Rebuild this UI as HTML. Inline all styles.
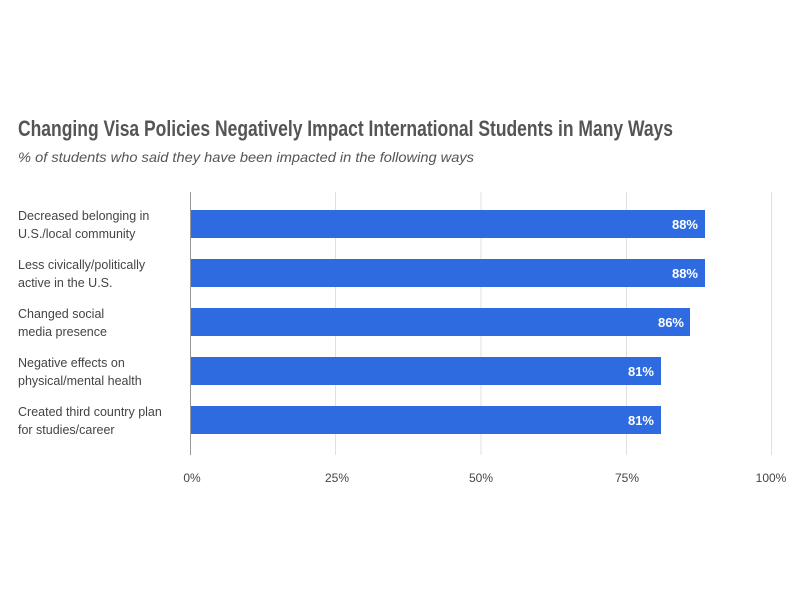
<!DOCTYPE html>
<html><head><meta charset="utf-8"><style>
html,body{margin:0;padding:0;background:#fff;}
svg{display:block;}
</style></head><body>
<svg width="800" height="600" xmlns="http://www.w3.org/2000/svg">
<rect width="800" height="600" fill="#fff"/>
<text x="18" y="136" font-family="Liberation Sans Narrow, Liberation Sans, sans-serif" font-size="22" font-weight="bold" fill="#555" textLength="655" lengthAdjust="spacingAndGlyphs">Changing Visa Policies Negatively Impact International Students in Many Ways</text>
<text x="18" y="162" font-family="Liberation Sans, sans-serif" font-size="14" font-style="italic" fill="#555" textLength="456" lengthAdjust="spacingAndGlyphs">% of students who said they have been impacted in the following ways</text>
<g stroke="#e0e0e0" stroke-width="1">
<line x1="335.5" y1="192" x2="335.5" y2="455"/>
<line x1="481" y1="192" x2="481" y2="455"/>
<line x1="626.5" y1="192" x2="626.5" y2="455"/>
<line x1="771.5" y1="192" x2="771.5" y2="455"/>
</g>
<g fill="#2e6ae0">
<rect x="190" y="210" width="515" height="28"/>
<rect x="190" y="259" width="515" height="28"/>
<rect x="190" y="308" width="500" height="28"/>
<rect x="190" y="357" width="471" height="28"/>
<rect x="190" y="406" width="471" height="28"/>
</g>
<line x1="190.5" y1="192" x2="190.5" y2="455" stroke="#999" stroke-width="1"/>
<g font-family="Liberation Sans, sans-serif" font-size="13" font-weight="bold" fill="#fff" text-anchor="end">
<text x="698" y="229">88%</text>
<text x="698" y="278">88%</text>
<text x="684" y="327">86%</text>
<text x="654" y="376">81%</text>
<text x="654" y="425">81%</text>
</g>
<g font-family="Liberation Sans, sans-serif" font-size="12.5" fill="#444">
<text x="18" y="220">Decreased belonging in</text>
<text x="18" y="238">U.S./local community</text>
<text x="18" y="269">Less civically/politically</text>
<text x="18" y="287">active in the U.S.</text>
<text x="18" y="318">Changed social</text>
<text x="18" y="336">media presence</text>
<text x="18" y="367">Negative effects on</text>
<text x="18" y="385">physical/mental health</text>
<text x="18" y="416">Created third country plan</text>
<text x="18" y="434">for studies/career</text>
</g>
<g font-family="Liberation Sans, sans-serif" font-size="12" fill="#444" text-anchor="middle">
<text x="192" y="482">0%</text>
<text x="337" y="482">25%</text>
<text x="481" y="482">50%</text>
<text x="627" y="482">75%</text>
<text x="771" y="482">100%</text>
</g>
</svg>
</body></html>
